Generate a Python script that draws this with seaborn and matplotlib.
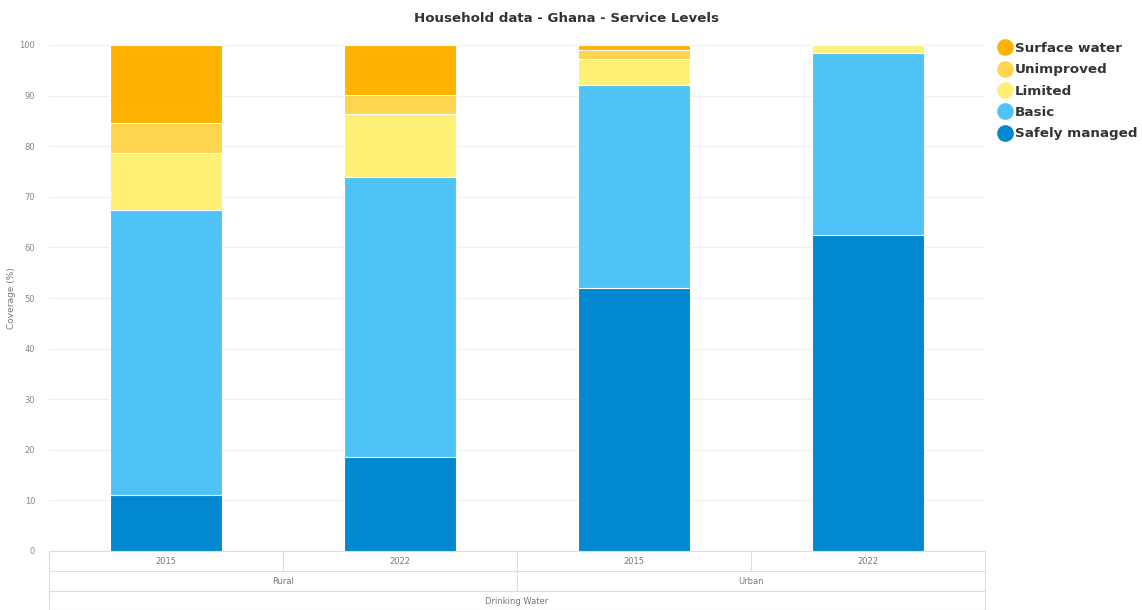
import matplotlib
matplotlib.use("Agg")
import matplotlib.pyplot as plt
from matplotlib.lines import Line2D
from matplotlib.transforms import blended_transform_factory
import seaborn as sns
import pandas as pd
import numpy as np

# ---- data ----
bars = ["Rural 2015", "Rural 2022", "Urban 2015", "Urban 2022"]
years = ["2015", "2022", "2015", "2022"]
areas = ["Rural", "Urban"]
service = "Drinking Water"
safely_managed = [11.0, 18.6, 52.0, 62.5]
basic = [56.4, 55.3, 40.1, 35.9]
limited = [11.3, 12.5, 5.1, 1.6]
unimproved = [5.9, 3.8, 1.8, 0.0]
surface_water = [15.4, 9.8, 1.0, 0.0]

levels = ["Surface water", "Unimproved", "Limited", "Basic", "Safely managed"]
colors = {"Surface water": "#FFB300", "Unimproved": "#FFD54F", "Limited": "#FFF176",
          "Basic": "#4FC3F7", "Safely managed": "#0288D1"}

sns.set_theme(style="white")
plt.rcParams['font.family'] = ['DejaVu Sans']

fig = plt.figure(figsize=(11.42, 6.10), dpi=100)
ax = fig.add_axes([49/1142, 59/610, (985-49)/1142, 506/610])

series = {"Safely managed": safely_managed, "Basic": basic, "Limited": limited,
          "Unimproved": unimproved, "Surface water": surface_water}
stack_order = ["Safely managed", "Basic", "Limited", "Unimproved", "Surface water"]
cum = np.zeros(len(bars))
cums = {}
for lv in stack_order:
    cum = cum + np.array(series[lv])
    cums[lv] = cum.copy()

for lv in reversed(stack_order):
    df = pd.DataFrame({"bar": bars, "value": cums[lv]})
    sns.barplot(data=df, x="bar", y="value", color=colors[lv], saturation=1,
                width=0.48, edgecolor="white", linewidth=0.8, ax=ax, zorder=3)

ax.set_ylim(0, 100)
ax.set_xlim(-0.5, 3.5)
ax.set_yticks(range(0, 101, 10))
ax.tick_params(axis="y", labelsize=6, colors="#888888", length=0, pad=10)
ax.set_xticks([])
ax.set_xlabel("")
ax.set_ylabel("")
ax.grid(axis="y", color="#eeeeee", linewidth=0.8, zorder=0)
for s in ax.spines.values():
    s.set_visible(False)

fig.text(12/1142, 1 - 298/610, "Coverage (%)", rotation=90, ha="center", va="center",
         fontsize=6.5, color="#777777")

# ---- category table below the axis ----
tr = blended_transform_factory(ax.transData, ax.transAxes)
rh = 20/506
lc = "#dddddd"
tc = "#777777"
fs = 6
for k in range(4):
    yk = -k*rh if k < 3 else -(3*rh - 1.5/506)
    ax.add_line(Line2D([-0.5, 3.5], [yk, yk], transform=tr, color=lc, lw=0.8, clip_on=False))
ax.add_line(Line2D([-0.5, -0.5], [0, -3*rh], transform=tr, color=lc, lw=0.8, clip_on=False))
ax.add_line(Line2D([3.5, 3.5], [0, -3*rh], transform=tr, color=lc, lw=0.8, clip_on=False))
for xb in [0.5, 2.5]:
    ax.add_line(Line2D([xb, xb], [0, -rh], transform=tr, color=lc, lw=0.8, clip_on=False))
ax.add_line(Line2D([1.5, 1.5], [0, -2*rh], transform=tr, color=lc, lw=0.8, clip_on=False))
for i, yr in enumerate(years):
    ax.text(i, -0.5*rh, yr, transform=tr, ha="center", va="center", fontsize=fs, color=tc)
for j, ar in enumerate(areas):
    ax.text(2*j + 0.5, -1.5*rh, ar, transform=tr, ha="center", va="center", fontsize=fs, color=tc)
ax.text(1.5, -2.5*rh, service, transform=tr, ha="center", va="center", fontsize=fs, color=tc)

# ---- title ----
fig.text(566/1142, 1 - 18/610, "Household data - Ghana - Service Levels", ha="center", va="center",
         fontsize=9.6, fontweight="bold", color="#333333")

# ---- legend ----
handles = [Line2D([0], [0], marker="o", linestyle="", markersize=11,
                  markerfacecolor=colors[lv], markeredgecolor=colors[lv]) for lv in levels]
fig.legend(handles, levels, loc="upper left", bbox_to_anchor=(997/1142, 1 - 42/610),
           frameon=False, handletextpad=0.1, labelspacing=0.62, handlelength=1.2,
           borderaxespad=0, borderpad=0,
           prop={"size": 9.7, "weight": "bold"}, labelcolor="#333333")

fig.savefig("out.png", dpi=100)
